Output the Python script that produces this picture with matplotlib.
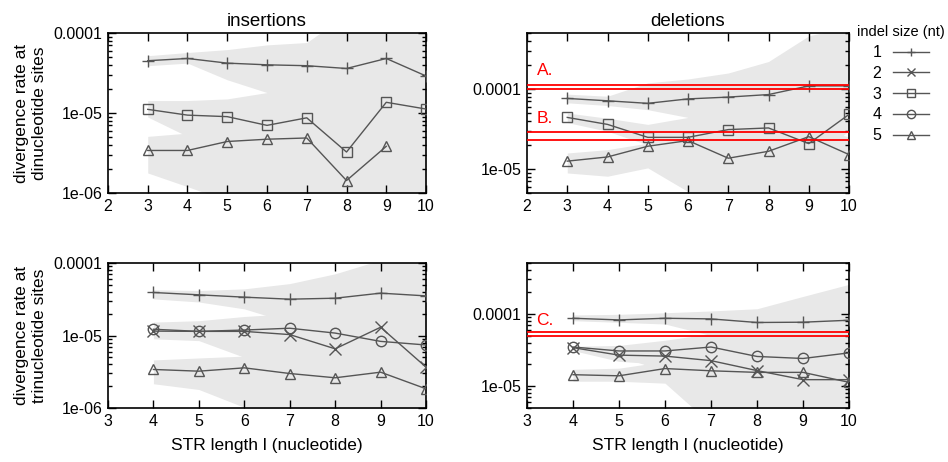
import numpy as np
import matplotlib
matplotlib.use('Agg')
import matplotlib.pyplot as plt
from matplotlib.lines import Line2D
from matplotlib.ticker import LogLocator, FuncFormatter, NullFormatter

plt.rcParams['font.family'] = ['Liberation Sans', 'DejaVu Sans']

# STR length
x_di = [3, 4, 5, 6, 7, 8, 9, 10]
x_tri = [4, 5, 6, 7, 8, 9, 10]
nan = np.nan

# insertions, dinucleotide sites (indel size 1, 3, 5)
ins_di_1 = [4.5e-5, 4.8e-5, 4.2e-5, 4.0e-5, 3.9e-5, 3.6e-5, 4.8e-5, 2.9e-5]
ins_di_3 = [1.11e-5, 9.4e-6, 9.0e-6, 7.0e-6, 8.7e-6, 3.25e-6, 1.36e-5, 1.12e-5]
ins_di_5 = [3.4e-6, 3.4e-6, 4.4e-6, 4.7e-6, 4.87e-6, 1.43e-6, 3.83e-6, nan]
ins_di_1_lo = [3.9e-5, 4.2e-5, 2.6e-5, 1.8e-5, 1.3e-5, 1.2e-5, 1.5e-5, 1.2e-5]
ins_di_1_hi = [5.2e-5, 5.7e-5, 6.2e-5, 7.1e-5, 7.6e-5, 1.7e-4, 2e-4, 2e-4]
ins_di_3_lo = [8.9e-6, 5.1e-6, 4.5e-6, 4e-6, 4.5e-6, 1.5e-6, 1e-6, 5e-7]
ins_di_3_hi = [1.43e-5, 1.43e-5, 1.5e-5, 1.8e-5, 2e-5, 1.4e-5, 2.5e-5, 2e-5]
ins_di_5_lo = [1.78e-6, 1.2e-6, 8e-7, 7e-7, 7e-7, 3e-7, 5e-7, nan]
ins_di_5_hi = [5.1e-6, 5.6e-6, 7e-6, 7e-6, 8e-6, 3e-6, 8e-6, nan]

# deletions, dinucleotide sites
del_di_1 = [7.6e-5, 7.1e-5, 6.6e-5, 7.5e-5, 7.9e-5, 8.5e-5, 1.09e-4, 1.09e-4]
del_di_3 = [4.4e-5, 3.6e-5, 2.48e-5, 2.48e-5, 3.1e-5, 3.25e-5, 2.07e-5, 4.8e-5]
del_di_5 = [1.25e-5, 1.41e-5, 1.92e-5, 2.26e-5, 1.36e-5, 1.66e-5, 2.53e-5, 1.51e-5]
del_di_1_lo = [6.7e-5, 6.2e-5, 5.5e-5, 4.4e-5, 3e-5, 3e-5, 4e-5, 4e-5]
del_di_1_hi = [8.6e-5, 8.1e-5, 1.19e-4, 1.33e-4, 1.58e-4, 2.2e-4, 4.6e-4, 6e-4]
del_di_3_lo = [3.8e-5, 2.95e-5, 2.0e-5, 1.5e-5, 2e-5, 2e-5, 1.2e-5, 3e-5]
del_di_3_hi = [5.0e-5, 4.3e-5, 3.6e-5, 4.4e-5, 5e-5, 5e-5, 5e-5, 8e-5]
del_di_5_lo = [8.9e-6, 8.1e-6, 1.03e-5, 5.2e-6, 3e-6, 3e-6, 3e-6, 3e-6]
del_di_5_hi = [1.58e-5, 1.74e-5, 2.1e-5, 3e-5, 2.5e-5, 2.5e-5, 3.5e-5, 2.5e-5]

# insertions, trinucleotide sites (indel size 1, 2, 4, 5)
ins_tri_1 = [3.92e-5, 3.64e-5, 3.38e-5, 3.17e-5, 3.27e-5, 3.84e-5, 3.52e-5]
ins_tri_2 = [1.15e-5, 1.14e-5, 1.14e-5, 1.03e-5, 6.55e-6, 1.3e-5, 3.66e-6]
ins_tri_4 = [1.22e-5, 1.14e-5, 1.19e-5, 1.26e-5, 1.08e-5, 8.3e-6, 7.4e-6]
ins_tri_5 = [3.4e-6, 3.22e-6, 3.58e-6, 2.99e-6, 2.61e-6, 3.12e-6, 1.84e-6]
ins_tri_1_lo = [3.2e-5, 2.9e-5, 2.33e-5, 1.5e-5, 1.5e-5, 1.5e-5, 1.5e-5]
ins_tri_1_hi = [4.27e-5, 4.17e-5, 4.4e-5, 5.2e-5, 7.1e-5, 1.1e-4, 1.3e-4]
ins_tri_2_lo = [9.5e-6, 9e-6, 7e-6, 5e-6, 3e-6, 5e-6, 1.5e-6]
ins_tri_2_hi = [1.45e-5, 1.5e-5, 1.7e-5, 2e-5, 1.5e-5, 2.5e-5, 1.5e-5]
ins_tri_4_lo = [9e-6, 8.5e-6, 5e-6, 4e-6, 3e-6, 4e-6, 3e-6]
ins_tri_4_hi = [1.53e-5, 1.6e-5, 1.83e-5, 2e-5, 2e-5, 2e-5, 2e-5]
ins_tri_5_lo = [2.16e-6, 1.8e-6, 1.02e-6, 6e-7, 5e-7, 5e-7, 5e-7]
ins_tri_5_hi = [4.6e-6, 4.9e-6, 5.2e-6, 6e-6, 6e-6, 6e-6, 5e-6]

# deletions, trinucleotide sites
del_tri_1 = [8.65e-5, 8.2e-5, 8.65e-5, 8.47e-5, 7.56e-5, 7.63e-5, 8.12e-5]
del_tri_2 = [3.4e-5, 2.68e-5, 2.6e-5, 2.25e-5, 1.64e-5, 1.23e-5, 1.23e-5]
del_tri_4 = [3.47e-5, 3.06e-5, 3.06e-5, 3.47e-5, 2.57e-5, 2.41e-5, 2.88e-5]
del_tri_5 = [1.44e-5, 1.39e-5, 1.75e-5, 1.63e-5, 1.55e-5, 1.55e-5, 1.13e-5]
del_tri_1_lo = [8e-5, 7.6e-5, 7.2e-5, 5e-5, 4e-5, 4e-5, 4e-5]
del_tri_1_hi = [9.6e-5, 9.8e-5, 1.03e-4, 1.09e-4, 1.17e-4, 1.73e-4, 2.54e-4]
del_tri_2_lo = [3.1e-5, 2.2e-5, 2e-5, 1.5e-5, 1.1e-5, 9e-6, 9e-6]
del_tri_2_hi = [3.5e-5, 3e-5, 3e-5, 3e-5, 2.5e-5, 2e-5, 2e-5]
del_tri_4_lo = [3.1e-5, 2.6e-5, 1.6e-5, 1.5e-5, 1.4e-5, 1.4e-5, 1.4e-5]
del_tri_4_hi = [3.55e-5, 3.65e-5, 4.3e-5, 5.3e-5, 5e-5, 5e-5, 5e-5]
del_tri_5_lo = [1.17e-5, 1.17e-5, 1.1e-5, 3e-6, 3e-6, 3e-6, 3e-6]
del_tri_5_hi = [1.71e-5, 1.77e-5, 2.2e-5, 2e-5, 2e-5, 2e-5, 1.6e-5]

# reference rates (red lines)
ref_A = [1.0e-4, 1.11e-4]
ref_B = [2.3e-5, 2.92e-5]
ref_C = [4.95e-5, 5.54e-5]

legend_sizes = ['1', '2', '3', '4', '5']
markers = {'1': '+', '2': 'x', '3': 's', '4': 'o', '5': '^'}
LINE = '#555555'
BAND = '#e8e8e8'


def fmt_rate(v, pos):
    if abs(v - 1e-4) < 1e-9:
        return '0.0001'
    e = int(round(np.log10(v)))
    return f'1e-{abs(e):02d}'


def style_axis(ax, xlim, ylim, xticks):
    ax.set_yscale('log')
    ax.set_xlim(*xlim)
    ax.set_ylim(*ylim)
    ax.set_xticks(xticks)
    ax.yaxis.set_major_locator(LogLocator(base=10, numticks=10))
    ax.yaxis.set_minor_locator(LogLocator(base=10, subs=np.arange(2, 10), numticks=10))
    ax.yaxis.set_major_formatter(FuncFormatter(fmt_rate))
    ax.yaxis.set_minor_formatter(NullFormatter())
    ax.tick_params(which='both', direction='in', top=True, right=True, labelsize=11.5, width=1)
    ax.tick_params(which='major', length=6, pad=4)
    ax.tick_params(which='minor', length=3)
    for sp in ax.spines.values():
        sp.set_linewidth(1.2)


def draw(ax, x, series, bands):
    for lo, hi in bands:
        ax.fill_between(x, lo, hi, color=BAND, lw=0, zorder=0)
    for key, y in series:
        ms = 7.5 if key in ('3', '4', '5') else 8
        ax.plot(x, y, color=LINE, lw=1, marker=markers[key], ms=ms,
                mfc='none', mec=LINE, mew=1, zorder=3)


fig = plt.figure(figsize=(9.48, 4.62), dpi=100)
ax1 = fig.add_axes([0.1139, 0.5823, 0.3355, 0.3463])
ax2 = fig.add_axes([0.5559, 0.5823, 0.3397, 0.3463])
ax3 = fig.add_axes([0.1139, 0.1169, 0.3355, 0.3138])
ax4 = fig.add_axes([0.5559, 0.1169, 0.3397, 0.3138])

draw(ax1, x_di,
     [('1', ins_di_1), ('3', ins_di_3), ('5', ins_di_5)],
     [(ins_di_1_lo, ins_di_1_hi), (ins_di_3_lo, ins_di_3_hi), (ins_di_5_lo, ins_di_5_hi)])
draw(ax2, x_di,
     [('1', del_di_1), ('3', del_di_3), ('5', del_di_5)],
     [(del_di_1_lo, del_di_1_hi), (del_di_3_lo, del_di_3_hi), (del_di_5_lo, del_di_5_hi)])
draw(ax3, x_tri,
     [('1', ins_tri_1), ('2', ins_tri_2), ('4', ins_tri_4), ('5', ins_tri_5)],
     [(ins_tri_1_lo, ins_tri_1_hi), (ins_tri_2_lo, ins_tri_2_hi),
      (ins_tri_4_lo, ins_tri_4_hi), (ins_tri_5_lo, ins_tri_5_hi)])
draw(ax4, x_tri,
     [('1', del_tri_1), ('2', del_tri_2), ('4', del_tri_4), ('5', del_tri_5)],
     [(del_tri_1_lo, del_tri_1_hi), (del_tri_2_lo, del_tri_2_hi),
      (del_tri_4_lo, del_tri_4_hi), (del_tri_5_lo, del_tri_5_hi)])

style_axis(ax1, (2, 10), (1e-6, 1e-4), range(2, 11))
style_axis(ax2, (2, 10), (5e-6, 5e-4), range(2, 11))
style_axis(ax3, (3, 10), (1e-6, 1e-4), range(3, 11))
style_axis(ax4, (3, 10), (5e-6, 5e-4), range(3, 11))

# reference lines
for v in ref_A + ref_B:
    ax2.axhline(v, color='red', lw=1.3, zorder=4)
for v in ref_C:
    ax4.axhline(v, color='red', lw=1.3, zorder=4)
ax2.text(2.25, 1.69e-4, 'A.', color='red', fontsize=12.5, va='center', ha='left')
ax2.text(2.25, 4.3e-5, 'B.', color='red', fontsize=12.5, va='center', ha='left')
ax4.text(3.2, 7.96e-5, 'C.', color='red', fontsize=12.5, va='center', ha='left')

ax1.set_title('insertions', fontsize=13.5, pad=5)
ax2.set_title('deletions', fontsize=13.5, pad=5)
ax1.set_ylabel('divergence rate at\ndinucleotide sites', fontsize=12.5, labelpad=5)
ax3.set_ylabel('divergence rate at\ntrinucleotide sites', fontsize=12.5, labelpad=5)
ax3.set_xlabel('STR length l (nucleotide)', fontsize=12.5, labelpad=7)
ax4.set_xlabel('STR length l (nucleotide)', fontsize=12.5, labelpad=7)

handles = [Line2D([], [], color=LINE, lw=1, marker=markers[k], ms=6, mfc='none', mec=LINE)
           for k in legend_sizes]
leg = fig.legend(handles, legend_sizes, loc='upper right', bbox_to_anchor=(1.0, 0.952),
                 frameon=False, markerfirst=False, title='indel size (nt)',
                 fontsize=11.5, title_fontsize=10.5, handlelength=2.3, labelspacing=0.36,
                 handletextpad=0.7, borderpad=0.1, borderaxespad=0.1)

plt.savefig('out.png', dpi=100, facecolor='white')
